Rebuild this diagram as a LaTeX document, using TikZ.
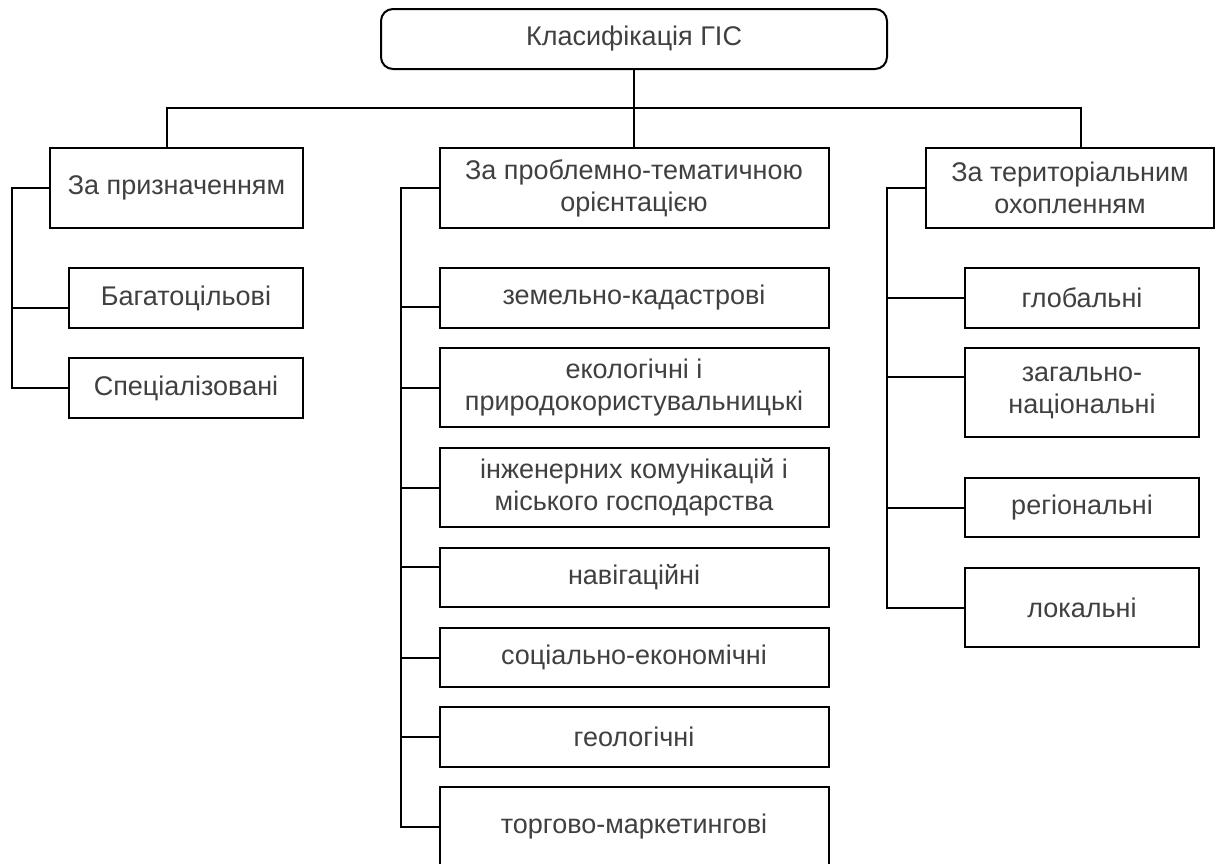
\documentclass[tikz,border=0pt]{standalone}
\usepackage{fontspec}
\setmainfont{Liberation Sans}
\begin{document}
\begin{tikzpicture}[x=1pt,y=-1pt,
  box/.style={draw=black, line width=2pt, inner sep=0pt, outer sep=0pt, align=center,
    text=black!75, font=\fontsize{27}{32}\selectfont},
  conn/.style={draw=black, line width=2pt}]
\useasboundingbox (0,0) rectangle (1217,863);
\fill[white] (0,0) rectangle (1217,863);
% top
\node[box, rounded corners=12pt, minimum width=506pt, minimum height=60pt] (top) at (634,39) {Класифікація ГІС};
% level 1
\node[box, minimum width=253pt, minimum height=80pt] (L) at (176.5,188) {За призначенням};
\node[box, minimum width=389pt, minimum height=80pt] (M) at (634,188) {За проблемно-тематичною\\орієнтацією};
\node[box, minimum width=288pt, minimum height=80pt] (R) at (1070,188) {За територіальним\\охопленням};
% left children
\node[box, minimum width=234pt, minimum height=60pt] (L1) at (186,298) {Багатоцільові};
\node[box, minimum width=234pt, minimum height=60pt] (L2) at (186,388) {Спеціалізовані};
% middle children
\node[box, minimum width=389pt, minimum height=60pt] (M1) at (634,298) {земельно-кадастрові};
\node[box, minimum width=389pt, minimum height=79pt] (M2) at (634,387.5) {екологічні і\\природокористувальницькі};
\node[box, minimum width=389pt, minimum height=79pt] (M3) at (634,487.5) {інженерних комунікацій і\\міського господарства};
\node[box, minimum width=389pt, minimum height=59pt] (M4) at (634,577.5) {навігаційні};
\node[box, minimum width=389pt, minimum height=59pt] (M5) at (634,657.5) {соціально-економічні};
\node[box, minimum width=389pt, minimum height=60pt] (M6) at (634,737) {геологічні};
\node[box, minimum width=389pt, minimum height=80pt] (M7) at (634,827) {торгово-маркетингові};
% right children
\node[box, minimum width=234pt, minimum height=60pt] (R1) at (1082,298) {глобальні};
\node[box, minimum width=234pt, minimum height=89pt] (R2) at (1082,392.5) {загально-\\національні};
\node[box, minimum width=234pt, minimum height=59pt] (R3) at (1082,507.5) {регіональні};
\node[box, minimum width=234pt, minimum height=79pt] (R4) at (1082,607.5) {локальні};
% bus
\coordinate (busL) at (167,108);
\coordinate (busR) at (1081,108);
\coordinate (railL) at (12,188);
\coordinate (railM) at (401,188);
\coordinate (railR) at (887,188);
\draw[conn] (top.south) -- (top.south |- busL) -- (M.north);
\draw[conn] (busL |- L.north) -- (busL) -- (busR) -- (busR |- R.north);
% left rail
\draw[conn] (L.west) -- (railL) -- (railL |- L2.west) -- (L2.west);
\draw[conn] ([yshift=-10pt]L1.west) -- ([yshift=-10pt]L1.west -| railL);
% middle rail
\draw[conn] (M.west) -- (railM) -- (railM |- M7.west) -- (M7.west);
\draw[conn] ([yshift=-9pt]M1.west) -- ([yshift=-9pt]M1.west -| railM);
\draw[conn] (M2.west) -- (M2.west -| railM);
\draw[conn] (M3.west) -- (M3.west -| railM);
\draw[conn] ([yshift=10.5pt]M4.west) -- ([yshift=10.5pt]M4.west -| railM);
\draw[conn] (M5.west) -- (M5.west -| railM);
\draw[conn] (M6.west) -- (M6.west -| railM);
% right rail
\draw[conn] (R.west) -- (railR) -- (railR |- R4.west) -- (R4.west);
\draw[conn] (R1.west) -- (R1.west -| railR);
\draw[conn] ([yshift=15.5pt]R2.west) -- ([yshift=15.5pt]R2.west -| railR);
\draw[conn] (R3.west) -- (R3.west -| railR);
\end{tikzpicture}
\end{document}
